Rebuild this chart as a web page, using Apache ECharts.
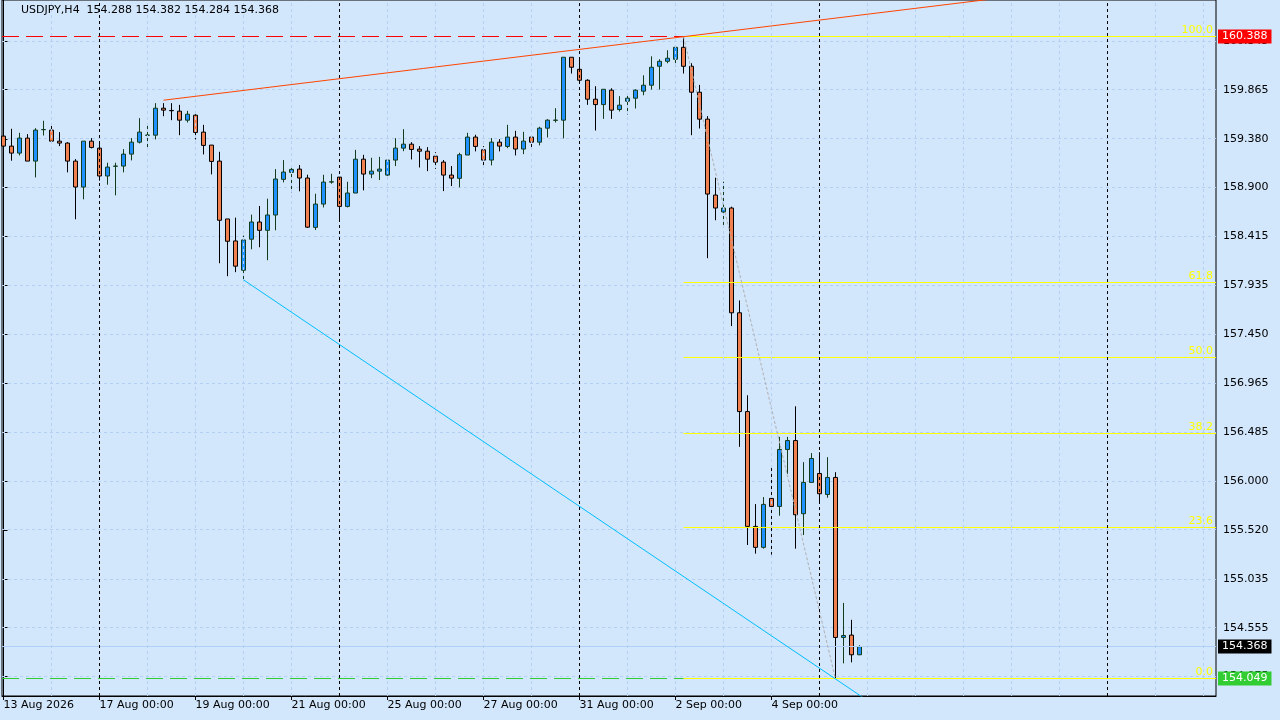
<!DOCTYPE html>
<html>
<head>
<meta charset="utf-8">
<script src="https://cdn.jsdelivr.net/npm/echarts@6/dist/echarts.min.js"></script>
<style>
html,body{margin:0;padding:0;background:#d2e6fc;}
#c{width:1280px;height:720px;}
</style>
</head>
<body>
<div id="c"></div>
<script>
// ---------------- DATA ----------------
const symbol = 'USDJPY';
const timeframe = 'H4';

const opens = [
159.407,159.308,159.239,159.387,159.160,159.470,159.466,159.357,159.338,159.160,
158.904,159.357,159.288,159.013,159.109,159.111,159.229,159.347,159.415,159.416,
159.682,159.660,159.653,159.564,159.613,159.446,159.318,159.160,158.589,158.372,
158.083,158.389,158.559,158.477,158.628,158.980,159.049,159.081,158.993,158.506,
158.736,158.953,159.002,158.713,158.845,159.179,159.032,159.061,159.022,159.170,
159.288,159.327,159.278,159.258,159.209,159.150,159.022,158.990,159.220,159.397,
159.272,159.170,159.347,159.305,159.397,159.279,159.397,159.347,159.485,159.562,
159.564,160.185,160.066,159.958,159.771,159.718,159.860,159.669,159.751,159.781,
159.850,159.909,160.096,160.145,160.165,160.283,160.096,159.840,159.574,158.825,
158.658,158.697,157.663,156.688,155.555,155.348,155.831,155.752,156.314,156.402,
155.680,155.989,156.077,155.870,156.038,154.459,154.482,154.288
];
const highs = [
159.433,159.479,159.439,159.426,159.485,159.558,159.518,159.446,159.347,159.180,
159.357,159.387,159.328,159.144,159.144,159.278,159.387,159.584,159.518,159.732,
159.732,159.732,159.715,159.656,159.623,159.518,159.318,159.252,158.589,158.602,
158.425,158.632,158.717,158.789,159.081,159.170,159.111,159.121,159.026,158.838,
159.025,159.035,159.002,158.956,159.271,159.222,159.193,159.202,159.180,159.386,
159.475,159.347,159.308,159.298,159.248,159.170,159.111,159.242,159.439,159.420,
159.308,159.387,159.377,159.518,159.459,159.449,159.407,159.499,159.574,159.682,
160.185,160.185,160.181,159.968,159.899,159.869,159.879,159.801,159.820,159.869,
160.007,160.194,160.165,160.254,160.283,160.388,160.126,159.912,159.604,158.996,
158.957,158.710,157.785,156.849,155.775,155.844,156.149,156.438,156.438,156.740,
156.189,156.278,156.287,156.238,156.090,154.800,154.633,154.382
];
const lows = [
159.229,159.164,159.216,159.160,158.999,159.413,159.334,159.308,159.049,158.586,
158.783,159.285,158.967,158.927,158.822,159.049,159.167,159.334,159.295,159.374,
159.603,159.564,159.416,159.541,159.374,159.226,159.029,158.152,158.024,158.064,
157.988,158.290,158.310,158.182,158.477,158.950,158.852,158.862,158.500,158.480,
158.703,158.937,158.566,158.703,158.845,158.871,158.992,158.973,159.012,159.111,
159.258,159.176,159.097,159.061,159.084,158.864,158.914,158.901,159.220,159.256,
159.098,159.118,159.256,159.288,159.216,159.229,159.275,159.315,159.393,159.541,
159.384,160.024,159.925,159.715,159.462,159.577,159.577,159.650,159.620,159.679,
159.810,159.866,159.866,160.126,160.096,160.024,159.416,159.482,158.202,158.576,
158.530,157.532,156.340,155.371,155.286,155.335,155.276,155.660,156.074,155.335,
155.470,155.989,155.788,155.838,154.049,154.203,154.213,154.284
];
const closes = [
159.308,159.239,159.387,159.160,159.466,159.472,159.357,159.338,159.160,158.904,
159.357,159.295,159.013,159.101,159.111,159.229,159.347,159.446,159.417,159.682,
159.663,159.657,159.564,159.623,159.443,159.315,159.157,158.576,158.369,158.123,
158.382,158.559,158.477,158.628,158.983,159.052,159.078,158.993,158.508,158.736,
158.953,158.956,158.713,158.845,159.179,159.032,159.061,159.081,159.170,159.288,
159.327,159.275,159.258,159.179,159.150,159.022,158.992,159.223,159.397,159.305,
159.170,159.347,159.308,159.397,159.279,159.357,159.347,159.485,159.564,159.565,
160.185,160.086,159.958,159.771,159.718,159.869,159.663,159.712,159.781,159.860,
159.909,160.086,160.145,160.175,160.283,160.096,159.840,159.574,158.835,158.697,
158.697,157.663,156.688,155.555,155.348,155.772,155.752,156.314,156.402,155.670,
155.989,156.225,155.877,156.038,154.459,154.478,154.288,154.368
];

// time axis labels (candle index -> text)
const xLabelIdx = [0, 12, 24, 36, 48, 60, 72, 84, 96];
const xLabels = ['13 Aug 2026', '17 Aug 00:00', '19 Aug 00:00', '21 Aug 00:00', '25 Aug 00:00',
                 '27 Aug 00:00', '31 Aug 00:00', '2 Sep 00:00', '4 Sep 00:00'];
// weekly period separators (candle index)
const separatorIdx = [12, 42, 72, 102, 138];
// price axis tick labels
const yTicks = [160.345, 159.865, 159.380, 158.900, 158.415, 157.935, 157.450, 156.965,
                156.485, 156.000, 155.520, 155.035, 154.555, 154.075];

// drawn objects
const bidLevel = 154.368;     // current price
const redLevel = 160.388;     // red horizontal line
const greenLevel = 154.049;   // green horizontal line
const hLevels = [bidLevel, redLevel, greenLevel];
const upTrend = [[20, 159.761], [85, 160.388]];    // orange-red ray anchors
const downTrend = [[30, 157.988], [104, 154.049]]; // cyan ray anchors
const fibFrom = [85, 160.388];
const fibTo = [104, 154.049];
const fibRatios = [1.0, 0.618, 0.5, 0.382, 0.236, 0.0];
const fibNames = ['100.0', '61.8', '50.0', '38.2', '23.6', '0.0'];

// ---------------- STYLE ----------------
const BG = '#d2e6fc';
const GRIDC = '#b4d0f4';
const FONT = 'DejaVu Sans';
const X_MIN = -0.1875, X_MAX = 151.5625;
const Y_MIN = 153.881, Y_MAX = 160.750;
const hLineStyles = [
  { stroke: '#b0d0f8', dash: null, box: '#000000' },
  { stroke: '#ff0000', dash: [17, 7], box: '#ff0000' },
  { stroke: '#32cd32', dash: [17, 7], box: '#32cd32' }
];

const candles = opens.map((o, i) => [i, o, closes[i], lows[i], highs[i]]);

function ray(a, b, xEnd) {
  const slope = (b[1] - a[1]) / (b[0] - a[0]);
  return [a, b, [xEnd, b[1] + slope * (xEnd - b[0])]];
}
const crisp = y => Math.round(y - 0.5) + 0.5;

const dayLines = [];
for (let i = 6; i <= 150; i += 6) dayLines.push(i);

const fibLevel = r => fibTo[1] + r * (fibFrom[1] - fibTo[1]);

const last = candles.length - 1;
const header = symbol + ',' + timeframe + '  ' +
  [opens[last], highs[last], lows[last], closes[last]].map(v => v.toFixed(3)).join(' ');

const option = {
  animation: false,
  backgroundColor: BG,
  title: {
    text: header, left: 21, top: 5, padding: 0,
    textStyle: { fontFamily: FONT, fontSize: 11, fontWeight: 'normal', color: '#000000' }
  },
  grid: {
    left: 2, right: 64, top: -1, bottom: 24,
    show: true, backgroundColor: BG, borderColor: '#000000', borderWidth: 1
  },
  xAxis: {
    type: 'value', min: X_MIN, max: X_MAX,
    axisLine: { show: true, lineStyle: { color: '#000000', width: 1 } },
    axisTick: { show: true, customValues: xLabelIdx, length: 4, lineStyle: { color: '#000000' } },
    axisLabel: {
      show: true, customValues: xLabelIdx, align: 'left', margin: 4,
      fontFamily: FONT, fontSize: 11, color: '#000000',
      formatter: v => xLabels[xLabelIdx.indexOf(Math.round(v))] || ''
    },
    splitLine: { show: false }
  },
  yAxis: {
    type: 'value', position: 'right', min: Y_MIN, max: Y_MAX, scale: true,
    axisLine: { show: true, lineStyle: { color: '#000000', width: 1 } },
    axisTick: { show: true, customValues: yTicks, length: 4, lineStyle: { color: '#000000' } },
    axisLabel: {
      show: true, customValues: yTicks, margin: 7,
      fontFamily: FONT, fontSize: 11, color: '#000000',
      formatter: v => Number(v).toFixed(3)
    },
    splitLine: { show: false }
  },
  series: [
    { // vertical background grid (days)
      type: 'line', data: [], z: 1, silent: true,
      markLine: {
        silent: true, symbol: 'none', animation: false,
        label: { show: false },
        lineStyle: { color: GRIDC, type: [3, 3], width: 1 },
        data: dayLines.map(i => ({ xAxis: i }))
      }
    },
    { // horizontal background grid (price ticks)
      type: 'custom', z: 1, silent: true, clip: true,
      data: yTicks.map(v => [X_MIN, v, X_MAX]),
      encode: { x: [0, 2], y: 1 },
      renderItem: function (params, api) {
        const p1 = api.coord([api.value(0), api.value(1)]);
        const p2 = api.coord([api.value(2), api.value(1)]);
        const y = crisp(p1[1]);
        return { type: 'line', shape: { x1: p1[0], y1: y, x2: p2[0], y2: y },
                 style: { stroke: GRIDC, lineWidth: 1, lineDash: [3, 3] } };
      }
    },
    { // candles
      type: 'candlestick', z: 2, data: candles, barWidth: 4, silent: true,
      itemStyle: {
        color: '#1e90ff', color0: '#f08050',
        borderColor: '#123d1c', borderColor0: '#000000', borderWidth: 1
      }
    },
    { // period separators
      type: 'line', data: [], z: 3, silent: true,
      markLine: {
        silent: true, symbol: 'none', animation: false,
        label: { show: false },
        lineStyle: { color: '#000000', type: [3, 3], width: 1 },
        data: separatorIdx.map(i => ({ xAxis: i }))
      }
    },
    { // horizontal lines with price boxes
      type: 'custom', z: 3, silent: true, clip: false,
      data: hLevels.map((v, k) => [X_MIN, v, X_MAX, k]),
      encode: { x: [0, 2], y: 1 },
      renderItem: function (params, api) {
        const lvl = api.value(1);
        const st = hLineStyles[api.value(3)];
        const p1 = api.coord([api.value(0), lvl]);
        const p2 = api.coord([api.value(2), lvl]);
        const y = crisp(p1[1]);
        return {
          type: 'group',
          children: [
            { type: 'line', shape: { x1: p1[0], y1: y, x2: p2[0], y2: y },
              style: { stroke: st.stroke, lineWidth: 1, lineDash: st.dash } },
            { type: 'text', x: p2[0] + 2, y: y,
              style: { text: lvl.toFixed(3), fill: '#ffffff', backgroundColor: st.box,
                       padding: [1, 4, 1, 4], lineHeight: 12,
                       font: '11px "DejaVu Sans"', align: 'left', verticalAlign: 'middle' } }
          ]
        };
      }
    },
    { // fibonacci levels (lines + labels)
      type: 'custom', z: 4, silent: true, clip: false,
      data: fibRatios.map((r, k) => [fibFrom[0], fibLevel(r), X_MAX, k]),
      encode: { x: [0, 2], y: 1 },
      renderItem: function (params, api) {
        const lvl = api.value(1);
        const p1 = api.coord([api.value(0), lvl]);
        const p2 = api.coord([api.value(2), lvl]);
        const y = crisp(p1[1]);
        return {
          type: 'group',
          children: [
            { type: 'line', shape: { x1: p1[0], y1: y, x2: p2[0], y2: y },
              style: { stroke: '#ffff00', lineWidth: 1 } },
            { type: 'text', x: p2[0] - 3, y: y - 1,
              style: { text: fibNames[api.value(3)], fill: '#ffff00',
                       font: '11px "DejaVu Sans"', align: 'right', verticalAlign: 'bottom' } }
          ]
        };
      }
    },
    { // fibonacci base line
      type: 'line', z: 4, silent: true, symbol: 'none',
      data: [fibFrom, fibTo],
      lineStyle: { color: '#b0b0b0', type: [3, 2], width: 1 }
    },
    { // orange-red trend ray
      type: 'line', z: 5, silent: true, symbol: 'none', clip: true,
      data: ray(upTrend[0], upTrend[1], X_MAX),
      lineStyle: { color: '#ff4500', width: 1 }
    },
    { // cyan trend ray
      type: 'line', z: 5, silent: true, symbol: 'none', clip: true,
      data: ray(downTrend[0], downTrend[1], X_MAX),
      lineStyle: { color: '#00bfff', width: 1 }
    }
  ]
};

const chart = echarts.init(document.getElementById('c'), null, { renderer: 'canvas' });
chart.setOption(option);
</script>
</body>
</html>
